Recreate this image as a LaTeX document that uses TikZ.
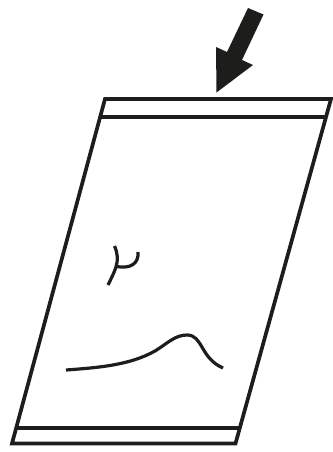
\documentclass[tikz,border=0pt]{standalone}
\usepackage{xcolor}
\usepackage{tikz}
\definecolor{inkdark}{HTML}{1D1D1B}
\begin{document}
\begin{tikzpicture}[x=1pt, y=-1pt,
  outline/.style={draw=inkdark,line width=3.7pt,line join=miter},
  trace/.style={draw=inkdark,line width=3.2pt}]
  \useasboundingbox (0,0) rectangle (332,452);
  \coordinate (tl) at (105,99);
  \coordinate (tr) at (331,99);
  \coordinate (br) at (235.5,443.5);
  \coordinate (bl) at (12,443.5);
  \draw[outline] (tl) -- (tr) -- (br) -- (bl) -- cycle;
  \draw[outline] (100,117) -- (326,117);
  \draw[outline] (16.5,428) -- (239.5,428);
  \fill[inkdark] (248,8) -- (263.5,14.5) -- (242,60) -- (253,65) -- (216.5,92.5) -- (216,47) -- (227,52) -- cycle;
  \draw[trace] (114.5,246) .. controls (118,254) and (118,260) .. (116,267) .. controls (114,273) and (111,279) .. (108,285);
  \draw[trace] (116.5,266.5) .. controls (130,269) and (139,264) .. (138,252);
  \draw[trace] (66,370) .. controls (100,367.5) and (130,365) .. (155,351) .. controls (168,343) and (175,335) .. (187,335) .. controls (203,335) and (200,358) .. (223,368);
\end{tikzpicture}
\end{document}
